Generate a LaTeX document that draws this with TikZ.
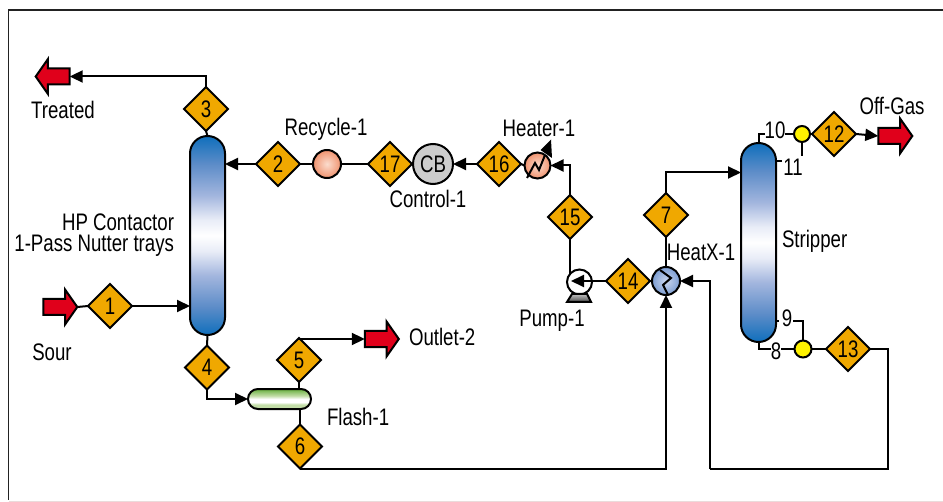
\documentclass[tikz,border=0pt]{standalone}
\usepackage{fontspec}
\setmainfont[FakeStretch=0.78]{Liberation Sans}
\usetikzlibrary{shapes.geometric,shapes.arrows,arrows.meta}
\definecolor{gold}{HTML}{F0A800}
\definecolor{redarrow}{HTML}{E0001B}
\definecolor{colblue}{HTML}{0F6FBC}
\definecolor{colb}{HTML}{5C8CC8}
\definecolor{colc}{HTML}{A3B6DE}
\definecolor{cold}{HTML}{E8ECF7}
\definecolor{framegrey}{HTML}{222222}
\definecolor{heatouter}{HTML}{F0936F}
\definecolor{heatinner}{HTML}{FBDCCD}
\definecolor{xouter}{HTML}{7C9DD2}
\definecolor{xinner}{HTML}{CBD7EE}
\pgfdeclareverticalshading{colshade}{100bp}{
  color(0bp)=(colblue); color(25bp)=(colblue); color(32bp)=(colb); color(40bp)=(colc); color(46bp)=(cold);
  color(50bp)=(white); color(54bp)=(cold); color(60bp)=(colc); color(68bp)=(colb);
  color(75bp)=(colblue); color(100bp)=(colblue)}
\definecolor{flg}{HTML}{66AE3C}
\definecolor{fll}{HTML}{C3DDA8}
\pgfdeclareverticalshading{flashshade}{100bp}{
  color(0bp)=(fll); color(25bp)=(fll); color(36bp)=(fll); color(42bp)=(white); color(50bp)=(white);
  color(58bp)=(fll); color(75bp)=(flg); color(100bp)=(flg)}
\pgfdeclareverticalshading{baseshade}{100bp}{
  color(0bp)=(black!70); color(25bp)=(black!70); color(75bp)=(black!25); color(100bp)=(black!25)}
\tikzset{
  every node/.style={font=\fontsize{24}{26}\selectfont},
  line/.style={line width=2bp,draw=black},
  flow/.style={line,-{Triangle[length=13bp,width=12bp]}},
  tag/.style={diamond,draw=black,line width=2bp,fill=gold,minimum width=44bp,minimum height=44bp,inner sep=0pt,outer sep=0pt,aspect=1},
  redarrow/.style={single arrow,draw=black,line width=2bp,fill=redarrow,inner sep=0pt,outer sep=0pt,
    minimum height=34bp,minimum width=33bp,single arrow head extend=9.5bp,single arrow tip angle=110,single arrow head indent=0pt},
  column/.style={rectangle,draw=black,line width=2bp,shading=colshade,outer sep=0pt,inner sep=0pt,minimum width=35bp,rounded corners=17.5bp},
  ball/.style={circle,draw=black,line width=2bp,inner sep=0pt,outer sep=0pt},
  heatball/.style={ball,inner color=heatinner,outer color=heatouter},
  label/.style={inner sep=0pt,outer sep=0pt},
}
\begin{document}
\begin{tikzpicture}[x=1bp,y=-1bp]
\useasboundingbox (0,0) rectangle (943,502);
\fill[white] (0,0) rectangle (943,502);
\draw[framegrey,line width=1.6bp] (943,10) -- (8.5,10) -- (8.5,500);
\draw[pink!60!gray!40,line width=1bp] (8.5,501.5) -- (943,501.5);

% equipment
\node[column,minimum height=199bp] (contactor) at (207.5,235.5) {};
\node[column,minimum height=199bp] (stripper) at (758.5,242.5) {};
\node[rectangle,draw=black,line width=2bp,rounded corners=10bp,minimum width=63bp,minimum height=20bp,inner sep=0pt,outer sep=0pt,shading=flashshade] (flash) at (279.5,399) {};
\node[heatball,minimum size=28bp] (recycle) at (327,164) {};
\node[ball,minimum size=40bp,fill=black!20] (cb) at (433,164) {CB};
\node[heatball,minimum size=26bp] (heater) at (537.5,165.5) {};
\node[ball,minimum size=28bp,inner color=xinner,outer color=xouter] (heatx) at (666,281) {};
\node[ball,minimum size=25bp,fill=white] (pump) at (579.5,282) {};
\node[ball,minimum size=16bp,fill=yellow] (mixa) at (802,134) {};
\node[ball,minimum size=17bp,fill=yellow] (mixb) at (803,349) {};

% arrows
\node[redarrow,shape border rotate=180] (treated) at (55.5,76.5) {\rule{0pt}{14bp}};
\node[redarrow] (sour) at (57.5,307) {\rule{0pt}{14bp}};
\node[redarrow] (outlet) at (379,339) {\rule{0pt}{14bp}};
\node[redarrow] (offgas) at (892.5,136) {\rule{0pt}{14bp}};

% tags
\node[tag] (t1) at (110,306) {1};
\node[tag] (t2) at (278,164) {2};
\node[tag] (t3) at (206,109) {3};
\node[tag] (t4) at (207,367.5) {4};
\node[tag] (t5) at (299,360) {5};
\node[tag] (t6) at (300,446.5) {6};
\node[tag] (t7) at (666,215) {7};
\node[tag] (t12) at (834,134) {12};
\node[tag] (t13) at (848,349) {13};
\node[tag] (t14) at (628,281) {14};
\node[tag] (t15) at (570,217) {15};
\node[tag] (t16) at (499,164) {16};
\node[tag] (t17) at (390,164) {17};

% stream labels
\node[label] (l10) at (775,130) {10};
\node[label] (l11) at (793,167) {11};
\node[label] (l8) at (776,351) {8};
\node[label] (l9) at (787,318) {9};
\coordinate (s11) at (776,161.5);
\coordinate (s9) at (776,321);
\coordinate (s9b) at (793,321);

% connectors
\draw[line] (t3.south) -- (contactor.north);
\draw[flow] (t3.north) |- (treated.east);
\draw[flow] (t2.west) -- (contactor.east |- t2.west);
\draw[line] (recycle.west) -- (t2.east);
\draw[line] (t17.west) -- (recycle.east);
\draw[line] (cb.west) -- (t17.east);
\draw[flow] (t16.west) -- (cb.east |- t16.west);
\draw[line] (heater.west) -- (t16.east);
\draw[flow] (t15.north) |- (heater.east);
\draw[line] (sour.east) -- (t1.west);
\draw[flow] (t1.east) -- (contactor.west |- t1.east);
\draw[line] (contactor.south) -- (t4.north);
\draw[flow] (t4.south) |- (flash.west);
\draw[line] (t5.south) -- (t5.south |- flash.north);
\draw[flow] (t5.north) |- (outlet.west);
\draw[line] (t6.north) -- (t6.north |- flash.south);
\draw[flow] (t6.south) -| (heatx.south);
\draw[flow] (t7.north) |- ([yshift=70bp]stripper.west);
\draw[line] (heatx.north) -- (t7.south);
\draw[line] (t14.east) -- (heatx.west);
\draw[flow] (t14.west) -- ([xshift=4bp]pump.west |- t14.west);
\draw[line] (pump.140) -- (pump.140 |- t15.south);
\coordinate (ret) at (709.5,469);
\draw[line] (t13.east) -| (888,469) -- (ret);
\draw[flow] (ret) |- (heatx.east);
\draw[line] (mixa.east) -- (t12.west);
\draw[flow] (t12.east) -- (offgas.west);
\draw[line] (stripper.north) |- (l10.west |- mixa.west);
\draw[line] (l10.east |- mixa.west) -- (mixa.west);
\draw[line] (s11) -- ++(6,0);
\draw[line] (mixa.south) -- ++(0,14);
\draw[line] (stripper.south) |- (l8.west |- mixb.west);
\draw[line] (l8.east |- mixb.west) -- (mixb.west);
\draw[line] (s9) -- ++(3,0);
\draw[line] (s9b) -| (mixb.north);
\draw[line] (mixb.east) -- (t13.west);

% symbols
\draw[line] (527,178) -- (535,163) -- (539,170) -- (545,155);
\fill[black] (551,139.5) -- (552,158) -- (540.5,150) -- cycle;
\draw[line] (660,270) -- (671,278) -- (663,285) -- (668,295);
\draw[line width=2bp,shading=baseshade] (567,302) -- (572,294) -- (587,294) -- (591,302) -- cycle;

% text
\node[label] (ttreated) at (63,110) {Treated};
\node[label] (trecycle) at (326,129) {Recycle-1};
\node[label,anchor=east] (thp) at (174,222) {HP Contactor};
\node[label,anchor=east] (tpass) at (174,246) {1-Pass Nutter trays};
\node[label] (tsour) at (52,352) {Sour};
\node[label,anchor=west] (toutlet) at (409,337) {Outlet-2};
\node[label,anchor=west] (tflash) at (327,417) {Flash-1};
\node[label] (tcontrol) at (428,199) {Control-1};
\node[label] (theater) at (539,128) {Heater-1};
\node[label] (theatx) at (701,252) {HeatX-1};
\node[label] (tpump) at (552,321) {Pump-1};
\node[label,anchor=west] (tstrip) at (782,241) {Stripper};
\node[label] (toff) at (892,106) {Off-Gas};
\end{tikzpicture}
\end{document}
